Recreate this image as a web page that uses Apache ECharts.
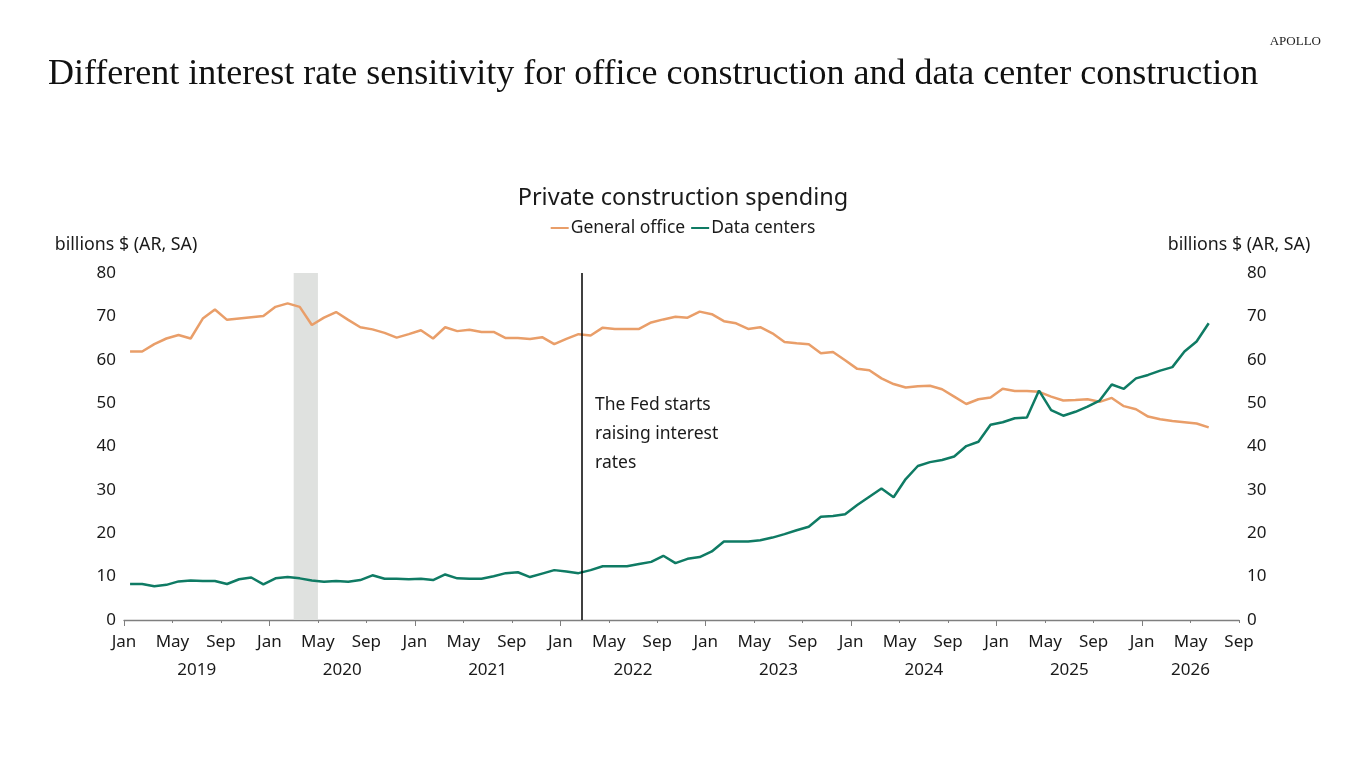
<!DOCTYPE html>
<html>
<head>
<meta charset="utf-8">
<script src="https://cdn.jsdelivr.net/npm/echarts@6/dist/echarts.min.js"></script>
<style>
  html, body { margin: 0; padding: 0; background: #fff; }
  #chart { width: 1366px; height: 768px; }
</style>
</head>
<body>
<div id="chart"></div>
<script>
// months on the x axis, counted from Jan 2019 (0) to Sep 2026 (92)
var monthNames = ['Jan','Feb','Mar','Apr','May','Jun','Jul','Aug','Sep','Oct','Nov','Dec'];
var firstYear = 2019;
var yearLabelPos = [6, 18, 30, 42, 54, 66, 78, 88];
var yearTickPos = [0, 12, 24, 36, 48, 60, 72, 84];

// billions $ (AR, SA), monthly Jan 2019 .. Jun 2026
var generalOffice = [
  61.9, 61.9, 63.6, 64.9, 65.7, 64.9, 69.5, 71.6, 69.2, 69.5, 69.8, 70.1,
  72.2, 73.0, 72.2, 68.0, 69.7, 71.0, 69.2, 67.5, 67.0, 66.2, 65.1, 65.9,
  66.8, 64.9, 67.5, 66.6, 66.9, 66.4, 66.4, 65.0, 65.0, 64.8, 65.2, 63.6,
  64.8, 65.9, 65.6, 67.4, 67.1, 67.1, 67.1, 68.6, 69.3, 69.9, 69.7, 71.1,
  70.5, 68.9, 68.4, 67.1, 67.5, 66.1, 64.1, 63.8, 63.6, 61.5, 61.8, 59.9,
  57.9, 57.6, 55.7, 54.4, 53.6, 53.9, 54.0, 53.2, 51.5, 49.8, 50.9, 51.3,
  53.3, 52.8, 52.8, 52.6, 51.5, 50.6, 50.7, 50.9, 50.3, 51.2, 49.3, 48.6,
  46.9, 46.3, 45.9, 45.6, 45.3, 44.4
];
var dataCenters = [
  8.3, 8.3, 7.8, 8.1, 8.9, 9.1, 9.0, 9.0, 8.3, 9.4, 9.8, 8.2,
  9.6, 9.9, 9.6, 9.1, 8.8, 9.0, 8.8, 9.2, 10.3, 9.5, 9.5, 9.4,
  9.5, 9.2, 10.5, 9.6, 9.5, 9.5, 10.1, 10.8, 11.0, 9.9, 10.7, 11.5,
  11.2, 10.8, 11.5, 12.4, 12.4, 12.4, 12.9, 13.4, 14.8, 13.1, 14.1, 14.5,
  15.8, 18.1, 18.1, 18.1, 18.4, 19.0, 19.8, 20.7, 21.5, 23.8, 24.0, 24.4,
  26.5, 28.4, 30.3, 28.3, 32.5, 35.5, 36.4, 36.9, 37.7, 40.1, 41.1, 45.0,
  45.6, 46.5, 46.7, 52.9, 48.4, 47.1, 48.0, 49.2, 50.6, 54.3, 53.3, 55.7,
  56.5, 57.5, 58.3, 61.9, 64.2, 68.4
];

var recession = [14, 16];   // Mar-Apr 2020
var fedHike = 37.8;         // Mar 2022
var unitLabel = 'billions $ (AR, SA)';

// points sit in the middle of each month
function toPoints(arr) {
  return arr.map(function (v, i) { return [i + 0.5, v]; });
}

var font = 'Noto Sans';
var txt = '#1a1a1a';

var myChart = echarts.init(document.getElementById('chart'));
var option = {
  backgroundColor: '#fff',
  animation: false,
  title: [
    {
      text: 'Different interest rate sensitivity for office construction and data center construction',
      left: 43, top: 52,
      textStyle: { fontFamily: 'Liberation Serif', fontWeight: 'normal', fontSize: 36, color: '#111' }
    },
    {
      text: 'APOLLO',
      right: 40, top: 30,
      textStyle: { fontFamily: 'Liberation Serif', fontWeight: 'normal', fontSize: 13, color: '#222' }
    },
    {
      text: 'Private construction spending',
      left: 'center', top: 181,
      textStyle: { fontFamily: font, fontWeight: 'normal', fontSize: 23.5, color: txt }
    }
  ],
  legend: {
    data: ['General office', 'Data centers'],
    top: 214, left: 'center',
    icon: 'rect', itemWidth: 18, itemHeight: 2, itemGap: 6,
    textStyle: { fontFamily: font, fontSize: 17.5, color: txt, padding: [0, 0, 0, -3] }
  },
  grid: { left: 124, right: 127, top: 273, bottom: 148 },
  xAxis: [
    {
      type: 'value', min: 0, max: 92, interval: 4,
      axisLine: { show: true, lineStyle: { color: '#7f7f7f', width: 1.3 } },
      axisTick: { show: true, length: 3, lineStyle: { color: '#7f7f7f' } },
      splitLine: { show: false },
      axisLabel: {
        fontFamily: font, fontSize: 17, color: txt, margin: 14,
        formatter: function (v) { return monthNames[v % 12]; }
      }
    },
    {
      type: 'value', min: 0, max: 92, position: 'bottom',
      axisLine: { show: false },
      axisTick: { show: true, length: 6, customValues: yearTickPos, lineStyle: { color: '#7f7f7f' } },
      splitLine: { show: false },
      axisLabel: {
        fontFamily: font, fontSize: 17, color: txt, margin: 42,
        customValues: yearLabelPos,
        formatter: function (v) { return String(firstYear + Math.floor(v / 12)); }
      }
    }
  ],
  yAxis: [
    {
      type: 'value', min: 0, max: 80, interval: 10, position: 'left',
      axisLine: { show: false }, axisTick: { show: false }, splitLine: { show: false },
      axisLabel: { fontFamily: font, fontSize: 17, color: txt, margin: 8 }
    },
    {
      type: 'value', min: 0, max: 80, interval: 10, position: 'right',
      axisLine: { show: false }, axisTick: { show: false }, splitLine: { show: false },
      axisLabel: { fontFamily: font, fontSize: 17, color: txt, margin: 8 }
    }
  ],
  series: [
    {
      name: 'marks', type: 'line', data: [], z: 1, silent: true,
      markArea: {
        silent: true,
        itemStyle: { color: '#dfe1df' },
        data: [[{ xAxis: recession[0] }, { xAxis: recession[1] }]]
      },
      markLine: {
        silent: true, symbol: 'none',
        label: { show: false },
        lineStyle: { color: '#000', width: 1.5, type: 'solid' },
        data: [{ xAxis: fedHike }]
      }
    },
    {
      name: 'General office', type: 'line', z: 3,
      data: toPoints(generalOffice),
      showSymbol: false, symbol: 'none',
      lineStyle: { color: '#e99e69', width: 2.5 },
      itemStyle: { color: '#e99e69' }
    },
    {
      name: 'Data centers', type: 'line', z: 3,
      data: toPoints(dataCenters),
      showSymbol: false, symbol: 'none',
      lineStyle: { color: '#0f7b64', width: 2.5 },
      itemStyle: { color: '#0f7b64' }
    }
  ],
  graphic: [
    {
      type: 'text', x: 126, y: 245,
      style: { text: unitLabel, align: 'center', verticalAlign: 'middle', fontFamily: font, fontSize: 17.8, fill: txt }
    },
    {
      type: 'text', x: 1239, y: 245,
      style: { text: unitLabel, align: 'center', verticalAlign: 'middle', fontFamily: font, fontSize: 17.8, fill: txt }
    },
    {
      type: 'text', left: 595, top: 391,
      style: {
        text: 'The Fed starts\nraising interest\nrates',
        fontFamily: font, fontSize: 17.5, lineHeight: 29, fill: txt
      }
    }
  ]
};
myChart.setOption(option);
</script>
</body>
</html>
